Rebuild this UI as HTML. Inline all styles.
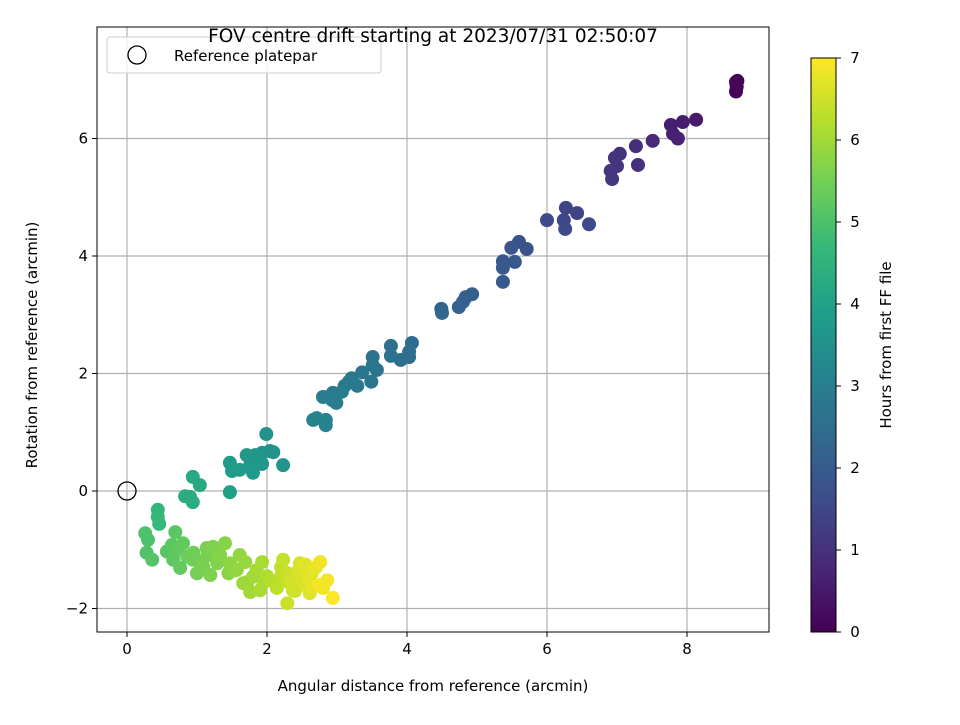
<!DOCTYPE html>
<html><head><meta charset="utf-8"><style>
body{margin:0;background:#fff;font-family:"Liberation Sans","DejaVu Sans",sans-serif}
svg text{font-family:"DejaVu Sans","Liberation Sans",sans-serif}
</style></head><body>
<svg id="c" width="960" height="720" xmlns="http://www.w3.org/2000/svg"></svg>
<script>
const xTicks=[0,2,4,6,8];
const yTicks=[-2,0,2,4,6];
const cbTicks=[0,1,2,3,4,5,6,7];
const xs=[8.7,8.72,8.7,8.71,8.13,7.94,7.77,7.8,7.87,7.51,7.27,7.3,7.04,6.97,7.0,6.91,6.93,6.0,6.27,6.43,6.6,6.24,6.26,5.6,5.49,5.71,5.54,5.37,5.37,5.37,4.93,4.84,4.8,4.74,4.49,4.5,4.07,4.03,4.03,3.91,3.77,3.77,3.51,3.51,3.57,3.36,3.21,3.17,3.11,3.29,3.49,3.07,2.94,2.93,2.99,2.8,2.66,2.71,2.84,2.84,1.99,2.04,2.09,1.93,1.47,1.5,1.61,1.71,1.83,1.76,1.8,1.93,2.23,1.47,0.94,1.04,0.83,0.9,0.94,0.44,0.44,0.46,
0.26,0.3,0.28,0.36,0.69,0.64,0.57,0.8,0.66,0.76,0.86,0.94,1.0,1.14,1.23,1.4,1.19,1.09,1.29,1.33,1.47,1.61,1.69,1.57,1.8,1.66,1.76,1.93,1.9,2.04,2.23,2.29,2.14,2.29,2.37,2.47,2.51,2.64,2.76,2.61,2.8,2.94,2.43,2.66,2.86,2.55,2.2,2.35,1.55,1.72,2.0,0.72,
1.05,1.15,0.95,1.3,1.5,1.45,1.85,1.95,2.2,2.3,2.4,2.45,2.55,2.6,2.7,2.75];
const ys=[6.96,6.98,6.8,6.88,6.32,6.28,6.23,6.08,6.0,5.96,5.87,5.55,5.74,5.67,5.53,5.45,5.31,4.61,4.82,4.73,4.54,4.61,4.46,4.24,4.14,4.12,3.9,3.91,3.8,3.56,3.35,3.3,3.22,3.13,3.1,3.03,2.52,2.37,2.28,2.23,2.47,2.3,2.28,2.14,2.06,2.02,1.92,1.86,1.79,1.79,1.86,1.69,1.67,1.55,1.5,1.6,1.21,1.24,1.21,1.12,0.97,0.68,0.66,0.65,0.48,0.34,0.36,0.61,0.61,0.44,0.31,0.46,0.44,-0.02,0.24,0.1,-0.09,-0.1,-0.19,-0.32,-0.44,-0.56,
-0.72,-0.83,-1.05,-1.17,-0.7,-0.92,-1.03,-0.89,-1.17,-1.31,-1.12,-1.17,-1.4,-0.97,-0.95,-0.89,-1.43,-1.29,-1.23,-1.09,-1.23,-1.09,-1.21,-1.34,-1.46,-1.57,-1.72,-1.21,-1.69,-1.52,-1.17,-1.4,-1.65,-1.91,-1.69,-1.23,-1.52,-1.4,-1.21,-1.74,-1.65,-1.82,-1.46,-1.63,-1.52,-1.6,-1.3,-1.5,-1.35,-1.55,-1.45,-1.0,
-1.2,-1.1,-1.05,-1.15,-1.3,-1.4,-1.35,-1.55,-1.45,-1.55,-1.7,-1.35,-1.25,-1.5,-1.3,-1.6];
const hours=[0.02,0.05,0.08,0.1,0.5,0.55,0.6,0.63,0.66,0.8,0.9,0.93,1.0,1.03,1.06,1.08,1.1,1.5,1.45,1.4,1.55,1.52,1.56,1.8,1.85,1.82,1.9,1.93,1.95,1.98,2.1,2.13,2.16,2.19,2.25,2.28,2.45,2.5,2.52,2.55,2.6,2.62,2.7,2.72,2.68,2.76,2.8,2.83,2.86,2.8,2.74,2.9,2.93,2.96,2.95,3.0,3.15,3.12,3.1,3.14,3.55,3.6,3.58,3.65,3.8,3.85,3.82,3.72,3.7,3.75,3.78,3.68,3.62,3.95,4.2,4.22,4.3,4.32,4.35,4.6,4.65,4.7,
5.0,5.0,5.05,5.1,5.2,5.2,5.15,5.3,5.25,5.3,5.4,5.45,5.5,5.55,5.6,5.7,5.6,5.55,5.65,5.7,5.8,5.85,5.9,5.85,6.0,5.95,6.0,6.1,6.1,6.2,6.4,6.45,6.3,6.45,6.5,6.6,6.6,6.7,6.85,6.65,6.85,7.0,6.55,6.75,6.9,6.6,6.35,6.5,5.85,5.95,6.15,5.25,
5.5,5.55,5.45,5.65,5.8,5.75,6.05,6.1,6.35,6.45,6.5,6.6,6.7,6.7,6.8,6.9];
const NS="http://www.w3.org/2000/svg";
const svg=document.getElementById('c');
const L=97,R=769,T=27,B=632;
const sx=v=>127+v*70, sy=v=>491-v*58.75;
const vir=[[68,1,84],[72,40,120],[62,74,137],[49,104,142],[38,130,142],[31,158,137],[53,183,121],[110,206,88],[181,222,43],[253,231,37]];
function cmap(t){t=Math.max(0,Math.min(1,t));const p=t*(vir.length-1),i=Math.min(Math.floor(p),vir.length-2),f=p-i;const a=vir[i],b=vir[i+1];return `rgb(${a.map((v,k)=>Math.round(v+(b[k]-v)*f)).join(',')})`;}
function el(tag,attrs,parent){const e=document.createElementNS(NS,tag);for(const k in attrs)e.setAttribute(k,attrs[k]);(parent||svg).appendChild(e);return e;}
function txt(s,attrs,parent){const e=el('text',attrs,parent);e.textContent=s;return e;}
xTicks.forEach(v=>{const g=el('line',{x1:sx(v),x2:sx(v),y1:T,y2:B,stroke:'#b0b0b0','stroke-width':1.2});


el('line',{x1:sx(v),x2:sx(v),y1:B,y2:B+5,stroke:'#000'});
const t=txt(v,{x:sx(v),y:B+22,'font-size':15,'text-anchor':'middle'});

});
yTicks.forEach(v=>{const g=el('line',{x1:L,x2:R,y1:sy(v),y2:sy(v),stroke:'#b0b0b0','stroke-width':1.2});


el('line',{x1:L-5,x2:L,y1:sy(v),y2:sy(v),stroke:'#000'});
const t=txt(v<0?'\u2212'+(-v):v,{x:L-9,y:sy(v)+5,'font-size':15,'text-anchor':'end'});

});
const order=hours.map((h,i)=>i).sort((a,b)=>hours[a]-hours[b]);
order.forEach(i=>{const c=el('circle',{cx:sx(xs[i]),cy:sy(ys[i]),r:7,fill:cmap(hours[i]/7)});

});
const rf=el('circle',{cx:sx(0),cy:sy(0),r:9,fill:'none',stroke:'#000','stroke-width':1.3});


const fr=el('rect',{x:L,y:T,width:R-L,height:B-T,fill:'none',stroke:'#000','stroke-width':1});


const lg=el('g',{});


el('rect',{x:107,y:37,width:274,height:36,rx:3,fill:'#fff','fill-opacity':0.8,stroke:'#ccc'},lg);
el('circle',{cx:137,cy:55,r:9,fill:'none',stroke:'#000','stroke-width':1.3},lg);
txt('Reference platepar',{x:174,y:61,'font-size':15},lg);
const ti=txt('FOV centre drift starting at 2023/07/31 02:50:07',{x:433,y:42,'font-size':18.5,'text-anchor':'middle'});


const xt=txt('Angular distance from reference (arcmin)',{x:433,y:691,'font-size':15,'text-anchor':'middle'});


const yt=txt('Rotation from reference (arcmin)',{x:0,y:0,'font-size':15,'text-anchor':'middle',transform:'translate(37,345) rotate(-90)'});


const cbT=58,cbB=632,cbL=811,cbW=25;
const defs=el('defs',{});const gr=el('linearGradient',{id:'vg',x1:0,y1:1,x2:0,y2:0},defs);
vir.forEach((c,i)=>el('stop',{offset:i/(vir.length-1),'stop-color':`rgb(${c})`},gr));
const cb=el('rect',{x:cbL,y:cbT,width:cbW,height:cbB-cbT,fill:'url(#vg)',stroke:'#000','stroke-width':1});


cbTicks.forEach(v=>{const y=cbB-v*(cbB-cbT)/7;el('line',{x1:cbL+cbW,x2:cbL+cbW+5,y1:y,y2:y,stroke:'#000'});
const t=txt(v,{x:cbL+cbW+19,y:y+5,'font-size':15,'text-anchor':'middle'});

});
const ct=txt('Hours from first FF file',{x:0,y:0,'font-size':15,'text-anchor':'middle',transform:'translate(891,345) rotate(-90)'});


</script>
</body></html>
